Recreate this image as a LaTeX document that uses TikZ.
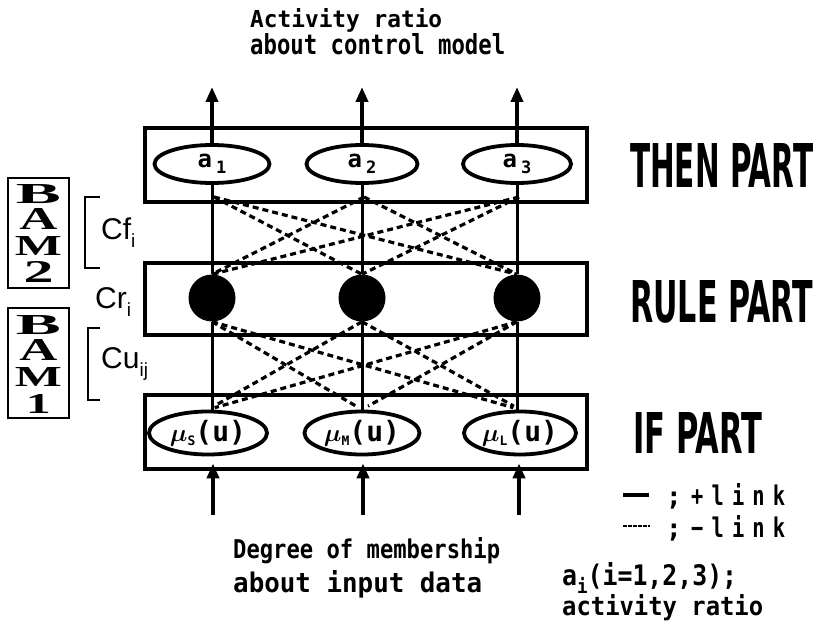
\documentclass[tikz,border=0pt]{standalone}
\usepackage{fontspec}
\usepackage{graphicx}
\usetikzlibrary{arrows.meta,calc,shapes.geometric}
\newfontfamily\monof{DejaVu Sans Mono}
\newfontfamily\monosp[LetterSpace=40]{DejaVu Sans Mono}
\newfontfamily\sansf{DejaVu Sans}
\newfontfamily\arialf{Liberation Sans}
\newfontfamily\serifb{Liberation Serif}
\newcommand\fitbox[3]{\resizebox{#1pt}{#2pt}{#3}}
\newcommand\alab[1]{{\monof\bfseries\fontsize{24}{24}\selectfont a\,\raisebox{-6pt}{\fontsize{17}{17}\selectfont #1}}}
\newcommand\mulab[1]{{\fontsize{32}{32}\selectfont\boldmath$\mu$}{\monof\bfseries\raisebox{-4pt}{\fontsize{13}{13}\selectfont #1}\fontsize{28}{28}\selectfont(u)}}
\begin{document}
\begin{tikzpicture}[x=1pt,y=-1pt,
  lbl/.style={inner sep=0pt, anchor=base west},
  boxpart/.style={draw, line width=3.2pt, minimum width=442pt, inner sep=0pt},
  ell/.style={draw, ellipse, line width=3.8pt, inner sep=0pt},
  rulenode/.style={circle, fill=black, minimum size=47pt, inner sep=0pt},
  conn/.style={line width=3pt},
  neg/.style={line width=3.2pt, dash pattern=on 6pt off 4pt},
  outarrow/.style={line width=4.5pt, -{Triangle[length=15pt,width=12pt]}},
  bambox/.style={draw, line width=2.6pt, minimum width=61pt, minimum height=110pt, inner sep=0pt},
  bamletter/.style={inner sep=0pt},
  brk/.style={line width=2.6pt}
]
\useasboundingbox (0,0) rectangle (815,626);

% part boxes
\node[boxpart, minimum height=74pt] (thenbox) at (366,165) {};
\node[boxpart, minimum height=72pt] (rulebox) at (366,299) {};
\node[boxpart, minimum height=74pt] (ifbox) at (366,432) {};

% THEN ellipses
\node[ell, minimum width=115pt, minimum height=38pt] (a1) at (212,164) {\alab{1}};
\node[ell, minimum width=111pt, minimum height=38pt] (a2) at (362,164) {\alab{2}};
\node[ell, minimum width=108pt, minimum height=38pt] (a3) at (517,164) {\alab{3}};

% rule nodes
\node[rulenode] (c1) at (212,298) {};
\node[rulenode] (c2) at (362,298) {};
\node[rulenode] (c3) at (517,298) {};

% IF ellipses
\node[ell, minimum width=118pt, minimum height=43pt] (m1) at (208,433) {\mulab{S}};
\node[ell, minimum width=115pt, minimum height=43pt] (m2) at (362,433) {\mulab{M}};
\node[ell, minimum width=112pt, minimum height=43pt] (m3) at (520,433) {\mulab{L}};

% solid links
\foreach \i in {1,2,3} {
  \draw[conn] (a\i.south) -- (c\i.north);
  \draw[conn] (c\i.south) -- (c\i.south |- m\i.north);
}

% dashed links
\coordinate (d1) at (214,197);
\coordinate (d2) at (364,197);
\coordinate (d3) at (519,197);
\foreach \i/\j in {1/2,1/3,2/1,2/3,3/1,3/2} {
  \draw[neg] (d\i) -- (c\j.north);
  \draw[neg, shorten >=7pt] (c\i.south) -- (m\j.north);
}

% output arrows
\coordinate (t1) at (212,87);
\coordinate (t2) at (362,87);
\coordinate (t3) at (517,87);
\foreach \i in {1,2,3} \draw[outarrow] (a\i.north) -- (t\i);

% input arrows
\coordinate (b1) at (213,515);
\coordinate (b2) at (363,515);
\coordinate (b3) at (519,515);
\foreach \i in {1,2,3} \draw[outarrow, shorten >=7pt] (b\i) -- (b\i |- m\i.south);

% top and bottom texts
\node[lbl] (t-act) at (250,28) {\fitbox{192}{19}{\monof\bfseries Activity ratio}};
\node[lbl] (t-abc) at (250,55) {\fitbox{255}{21}{\monof\bfseries about control model}};
\node[lbl] (t-deg) at (233,558) {\fitbox{267}{21}{\monof\bfseries Degree of membership}};
\node[lbl] (t-inp) at (233,592) {\fitbox{249}{22}{\monof\bfseries about input data}};

% part labels
\node[lbl] (l-then) at (630,187) {\fitbox{183}{44}{\sansf\bfseries THEN PART}};
\node[lbl] (l-rule) at (630,322) {\fitbox{183}{42}{\sansf\bfseries RULE PART}};
\node[lbl] (l-if) at (633,453) {\fitbox{129}{41}{\sansf\bfseries IF PART}};

% BAM boxes
\node[bambox] (bam2) at (38.5,233) {};
\node[bambox] (bam1) at (38.5,363) {};
\node[bamletter] (b2B) at (38.5,194) {\fitbox{45}{19}{\serifb\bfseries B}};
\node[bamletter] (b2A) at (38.5,219) {\fitbox{38}{21}{\serifb\bfseries A}};
\node[bamletter] (b2M) at (38.5,246) {\fitbox{47}{19}{\serifb\bfseries M}};
\node[bamletter] (b22) at (38.5,272) {\fitbox{30}{21}{\serifb\bfseries 2}};
\node[bamletter] (b1B) at (38.5,325) {\fitbox{45}{19}{\serifb\bfseries B}};
\node[bamletter] (b1A) at (38.5,350) {\fitbox{38}{21}{\serifb\bfseries A}};
\node[bamletter] (b1M) at (38.5,377) {\fitbox{47}{19}{\serifb\bfseries M}};
\node[bamletter] (b11) at (38.5,404) {\fitbox{25}{19}{\serifb\bfseries 1}};

% brackets
\draw[brk] (100,197) -- (85,197) -- (85,268) -- (100,268);
\draw[brk] (100,328) -- (88,328) -- (88,400) -- (100,400);
\node[inner sep=0pt, anchor=west] (cf) at (101,233) {\arialf\fontsize{30}{30}\selectfont Cf\raisebox{-8pt}{\fontsize{19}{19}\selectfont i}};
\node[inner sep=0pt, anchor=west] (cr) at (95,302) {\arialf\fontsize{30}{30}\selectfont Cr\raisebox{-8pt}{\fontsize{19}{19}\selectfont i}};
\node[inner sep=0pt, anchor=west] (cu) at (101,364) {\arialf\fontsize{30}{30}\selectfont Cu\raisebox{-8pt}{\fontsize{19}{19}\selectfont ij}};

% legend
\coordinate (lg1a) at (623,495);
\coordinate (lg1b) at (649,495);
\coordinate (lg2a) at (623,526);
\coordinate (lg2b) at (650,526);
\draw[line width=3.2pt] (lg1a) -- (lg1b);
\draw[line width=2.6pt, dash pattern=on 4pt off 1pt] (lg2a) -- (lg2b);
\node[lbl] (sc1) at (666,505) {\monof\bfseries\fontsize{26}{26}\selectfont ;};
\node[lbl] (sc2) at (666,537) {\monof\bfseries\fontsize{26}{26}\selectfont ;};
\node[lbl] (plus) at (691,505) {\fitbox{94}{22}{\monosp\bfseries +link}};
\node[lbl] (minus) at (691,537) {\fitbox{94}{22}{\monosp\bfseries −link}};

% activity ratio note
\node[lbl] (n1) at (562,585) {\fitbox{175}{23}{\monof\bfseries a\raisebox{-3pt}{\fontsize{7}{7}\selectfont i}(i=1,2,3);}};
\node[lbl] (n2) at (562,615) {\fitbox{201}{21}{\monof\bfseries activity ratio}};
\end{tikzpicture}
\end{document}
